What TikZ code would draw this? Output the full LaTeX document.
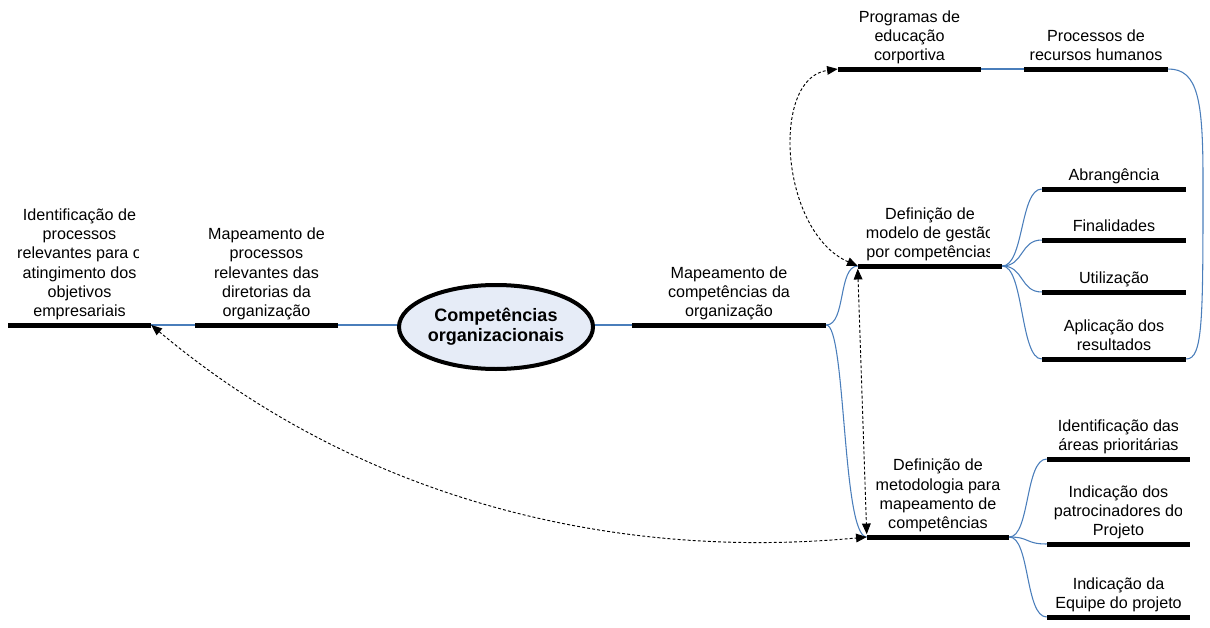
\documentclass[tikz,border=0pt]{standalone}
\usepackage{fontspec}
\setmainfont{Liberation Sans}
\usetikzlibrary{shapes.geometric,arrows.meta}
\definecolor{conn}{RGB}{74,126,187}
\definecolor{ellfill}{RGB}{230,236,247}
\tikzset{
  bar/.style={fill=black,draw=none,inner sep=0pt,minimum height=3.75pt,minimum width=#1*0.75pt},
  lbl/.style={anchor=south,align=center,inner sep=0pt,font=\fontsize{12.1}{14.4}\selectfont},
  bl/.style={draw=conn,line width=0.8pt},
  dsh/.style={draw=black,line width=0.7pt,dash pattern=on 2.2pt off 1.6pt,
    {Triangle[length=8pt,width=6.5pt]}-{Triangle[length=8pt,width=6.5pt]}},
}
\begin{document}
\begin{tikzpicture}[x=0.75pt,y=-0.75pt]
\useasboundingbox (0,0) rectangle (1210,628);
% bars
\node[bar=143] (b1) at (79.5,325) {};
\node[bar=143] (b2) at (266.5,325) {};
\node[bar=194] (b3) at (729,325) {};
\node[bar=143] (bp) at (909.5,69) {};
\node[bar=144] (bh) at (1096,69) {};
\node[bar=144] (bm) at (930,266) {};
\node[bar=144] (ba) at (1114,189) {};
\node[bar=144] (bf) at (1114,240) {};
\node[bar=144] (bu) at (1114,292) {};
\node[bar=144] (bap) at (1114,359) {};
\node[bar=142] (bd) at (938,537) {};
\node[bar=143] (bi) at (1118.5,459) {};
\node[bar=143] (bpt) at (1118.5,544) {};
\node[bar=143] (be) at (1118.5,617) {};
% labels
\begin{scope}
\clip (0,0) rectangle (138,628);
\node[lbl] (t1) at (79.5,322.5) {Identificação de\\processos\\relevantes para o\\atingimento dos\\objetivos\\empresariais\strut};
\end{scope}
\node[lbl] (t2) at (266.5,322.5) {Mapeamento de\\processos\\relevantes das\\diretorias da\\organização\strut};
\node[lbl] (t3) at (729,322.5) {Mapeamento de\\competências da\\organização\strut};
\node[lbl] (tp) at (909.5,66.5) {Programas de\\educação\\corportiva\strut};
\node[lbl] (th) at (1096,66.5) {Processos de\\recursos humanos\strut};
\begin{scope}
\clip (0,0) rectangle (989,628);
\node[lbl] (tm) at (930,263.5) {Definição de\\modelo de gestão\\por competências\strut};
\end{scope}
\node[lbl] (ta) at (1114,186.5) {Abrangência\strut};
\node[lbl] (tf) at (1114,237.5) {Finalidades\strut};
\node[lbl] (tu) at (1114,289.5) {Utilização\strut};
\node[lbl] (tap) at (1114,356.5) {Aplicação dos\\resultados\strut};
\node[lbl] (td) at (938,534.5) {Definição de\\metodologia para\\mapeamento de\\competências\strut};
\begin{scope}
\clip (0,0) rectangle (1177,628);
\node[lbl] (ti) at (1118.5,456.5) {Identificação das\\áreas prioritárias\strut};
\end{scope}
\begin{scope}
\clip (0,0) rectangle (1181,628);
\node[lbl] (tpt) at (1118.5,541.5) {Indicação dos\\patrocinadores do\\Projeto\strut};
\end{scope}
\node[lbl] (te) at (1118.5,614.5) {Indicação da\\Equipe do projeto\strut};
% blue connectors
\draw[bl] (b1.east) -- (b2.west);
\draw[bl] (b2.east) -- (b2.east -| 400,0);
\draw[bl] (b3.west) -- (b3.west -| 592,0);
\draw[bl] (bp.east) -- (bh.west);
\draw[bl] (b3.east) .. controls (846,325) and (838,266) .. (bm.west);
\draw[bl] (b3.east) .. controls (846,325) and (842,537) .. (bd.west);
\draw[bl] (bm.east) .. controls (1024,266) and (1020,189) .. (ba.west);
\draw[bl] (bm.east) .. controls (1024,266) and (1020,240) .. (bf.west);
\draw[bl] (bm.east) .. controls (1024,266) and (1020,292) .. (bu.west);
\draw[bl] (bm.east) .. controls (1024,266) and (1020,359) .. (bap.west);
\draw[bl] (bd.east) .. controls (1030,537) and (1025,459) .. (bi.west);
\draw[bl] (bd.east) .. controls (1030,537) and (1025,544) .. (bpt.west);
\draw[bl] (bd.east) .. controls (1030,537) and (1025,617) .. (be.west);
\draw[bl] (bh.east) .. controls (1198,69) and (1203,100) .. (1203,180)
  .. controls (1203,320) and (1203,359) .. (bap.east);
% centre ellipse
\node[ellipse,draw=black,line width=3pt,fill=ellfill,inner sep=0pt,
  minimum width=194*0.75pt,minimum height=84*0.75pt,align=center,
  font=\fontsize{13.5}{15}\selectfont\bfseries] (c) at (496,327) {Competências\\organizacionais};
% dashed arrows
\draw[dsh] (bm.west) .. controls (780,232) and (770,78) .. (bp.west);
\draw[dsh] (bm.south west) -- (bd.north west);
\draw[dsh] (b1.east) .. controls (350,492) and (600,562) .. (bd.west);
\end{tikzpicture}
\end{document}
